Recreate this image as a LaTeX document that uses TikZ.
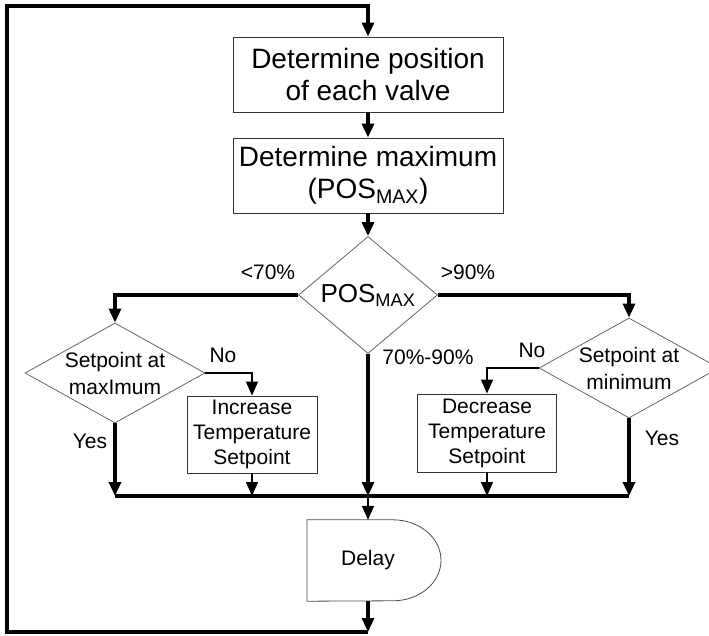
\documentclass[tikz,border=0pt]{standalone}
\usepackage{fontspec}
\setmainfont{Liberation Sans}
\usetikzlibrary{shapes.geometric,arrows.meta}

\begin{document}
\begin{tikzpicture}[x=1pt, y=1pt, >={Triangle[width=12pt,length=14pt]},
  every node/.style={font=\fontsize{21}{25}\selectfont},
  box/.style={draw=black!80, line width=0.9pt, align=center, inner sep=0pt},
  decision/.style={diamond, draw=black!60, line width=0.8pt, inner sep=0pt,
    minimum width=180pt, minimum height=100pt},
  flow/.style={line width=3.2pt},
  link/.style={line width=1.3pt}]
  \useasboundingbox (0,0) rectangle (709,635);
  % process boxes
  \node[box, minimum width=270pt, minimum height=75pt, font=\fontsize{28}{32}\selectfont] (pos) at (368,560.5) {Determine position\\of each valve};
  \node[box, minimum width=270pt, minimum height=75pt, font=\fontsize{28}{32}\selectfont] (maxi) at (368,459.5) {Determine maximum\\(POS\textsubscript{MAX})};
  \node[decision, minimum width=139pt, minimum height=106pt, font=\fontsize{26}{30}\selectfont] (dec) at (368,340) {POS\textsubscript{MAX}};
  \node[decision, label={[align=center, font=\fontsize{21}{27}\selectfont]center:Setpoint at\\maxImum}] (smax) at (115,262) {};
  \node[decision, label={[align=center, font=\fontsize{21}{27}\selectfont]center:Setpoint at\\minimum}] (smin) at (629,267) {};
  \node[box, minimum width=130pt, minimum height=77pt] (inc) at (252,200.5) {Increase\\Temperature\\Setpoint};
  \node[box, minimum width=139pt, minimum height=78pt] (dcr) at (487,202) {Decrease\\Temperature\\Setpoint};
  \node[minimum width=134pt, minimum height=81pt, inner sep=0pt] (delay) at (368,74.5) {Delay};
  \draw[draw=black!70, line width=0.8pt] ([xshift=-61pt]delay.north) -- ([xshift=25pt]delay.north)
    arc[start angle=90, end angle=-90, x radius=48, y radius=40.5] -- ([xshift=-61pt]delay.south) -- cycle;
  % labels
  \node (lo) at (268,363) {<70\%};
  \node (hi) at (468,363) {>90\%};
  \node (mid) at (428,278) {70\%-90\%};
  \node (nol) at (223,280) {No};
  \node (nor) at (532,285) {No};
  \node (yesl) at (90,194) {Yes};
  \node (yesr) at (662,197) {Yes};
  \coordinate (ml) at (115,139); \coordinate (mr) at (629,139);
  \coordinate (bot) at (368,3); \coordinate (lt) at (7,629);
  % connectors
  \draw[flow,->] (pos) -- (maxi);
  \draw[flow,->] (maxi) -- (dec);
  \draw[flow,->] (dec.west) -| (smax.north);
  \draw[flow,->] (dec.east) -| (smin.north);
  \draw[flow,->] (dec.south) -- (dec.south |- ml);
  \draw[link,->] (smax.east) -| (inc.north);
  \draw[link,->] (smin.west) -| (dcr.north);
  \draw[flow,->] (smax.south) -- (ml);
  \draw[flow,->] (smin.south) -- (mr);
  \draw[link,->] (inc.south) -- (inc.south |- ml);
  \draw[link,->] (dcr.south) -- (dcr.south |- ml);
  \draw[flow] (ml) -- (mr);
  \draw[link,->] (dec.south |- ml) -- (delay.north);
  \draw[flow,->] (delay.south) -- (bot);
  \draw[flow,->] (bot) -| (lt) -| (pos.north);
\end{tikzpicture}
\end{document}
